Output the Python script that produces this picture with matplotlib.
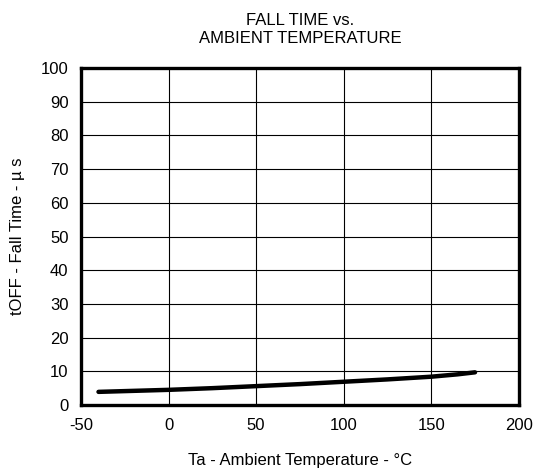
import numpy as np
import matplotlib
matplotlib.use("Agg")
import matplotlib.pyplot as plt

# === data ===
temps = [-40, 0, 25, 50, 75, 100, 125, 150, 165, 175]
fall_time = [3.9, 4.5, 5.0, 5.6, 6.2, 6.9, 7.6, 8.4, 9.1, 9.7]
xticks = [-50, 0, 50, 100, 150, 200]
yticks = list(range(0, 101, 10))

plt.rcParams['font.family'] = ['Liberation Sans', 'DejaVu Sans']
plt.rcParams['axes.unicode_minus'] = False

fig = plt.figure(figsize=(5.41, 4.68), dpi=100)
ax = fig.add_axes([0.1497, 0.1346, 0.8093, 0.7201])

ax.plot(temps, fall_time, color='black', lw=3.2, solid_capstyle='round')

ax.set_xlim(-50, 200)
ax.set_ylim(0, 100)
ax.set_xticks(xticks)
ax.set_yticks(yticks)
ax.grid(True, color='black', lw=0.8)
ax.tick_params(axis='x', length=0, labelsize=12, pad=9)
ax.tick_params(axis='y', length=0, labelsize=12, pad=9)
for s in ax.spines.values():
    s.set_linewidth(2.4)

ax.set_title("FALL TIME vs.\nAMBIENT TEMPERATURE", fontsize=12, pad=18, linespacing=1.25)
ax.set_xlabel("Ta - Ambient Temperature - °C", fontsize=12, labelpad=15)
ax.set_ylabel("tOFF - Fall Time - µ s", fontsize=12, labelpad=11)

fig.savefig("out.png", dpi=100)
